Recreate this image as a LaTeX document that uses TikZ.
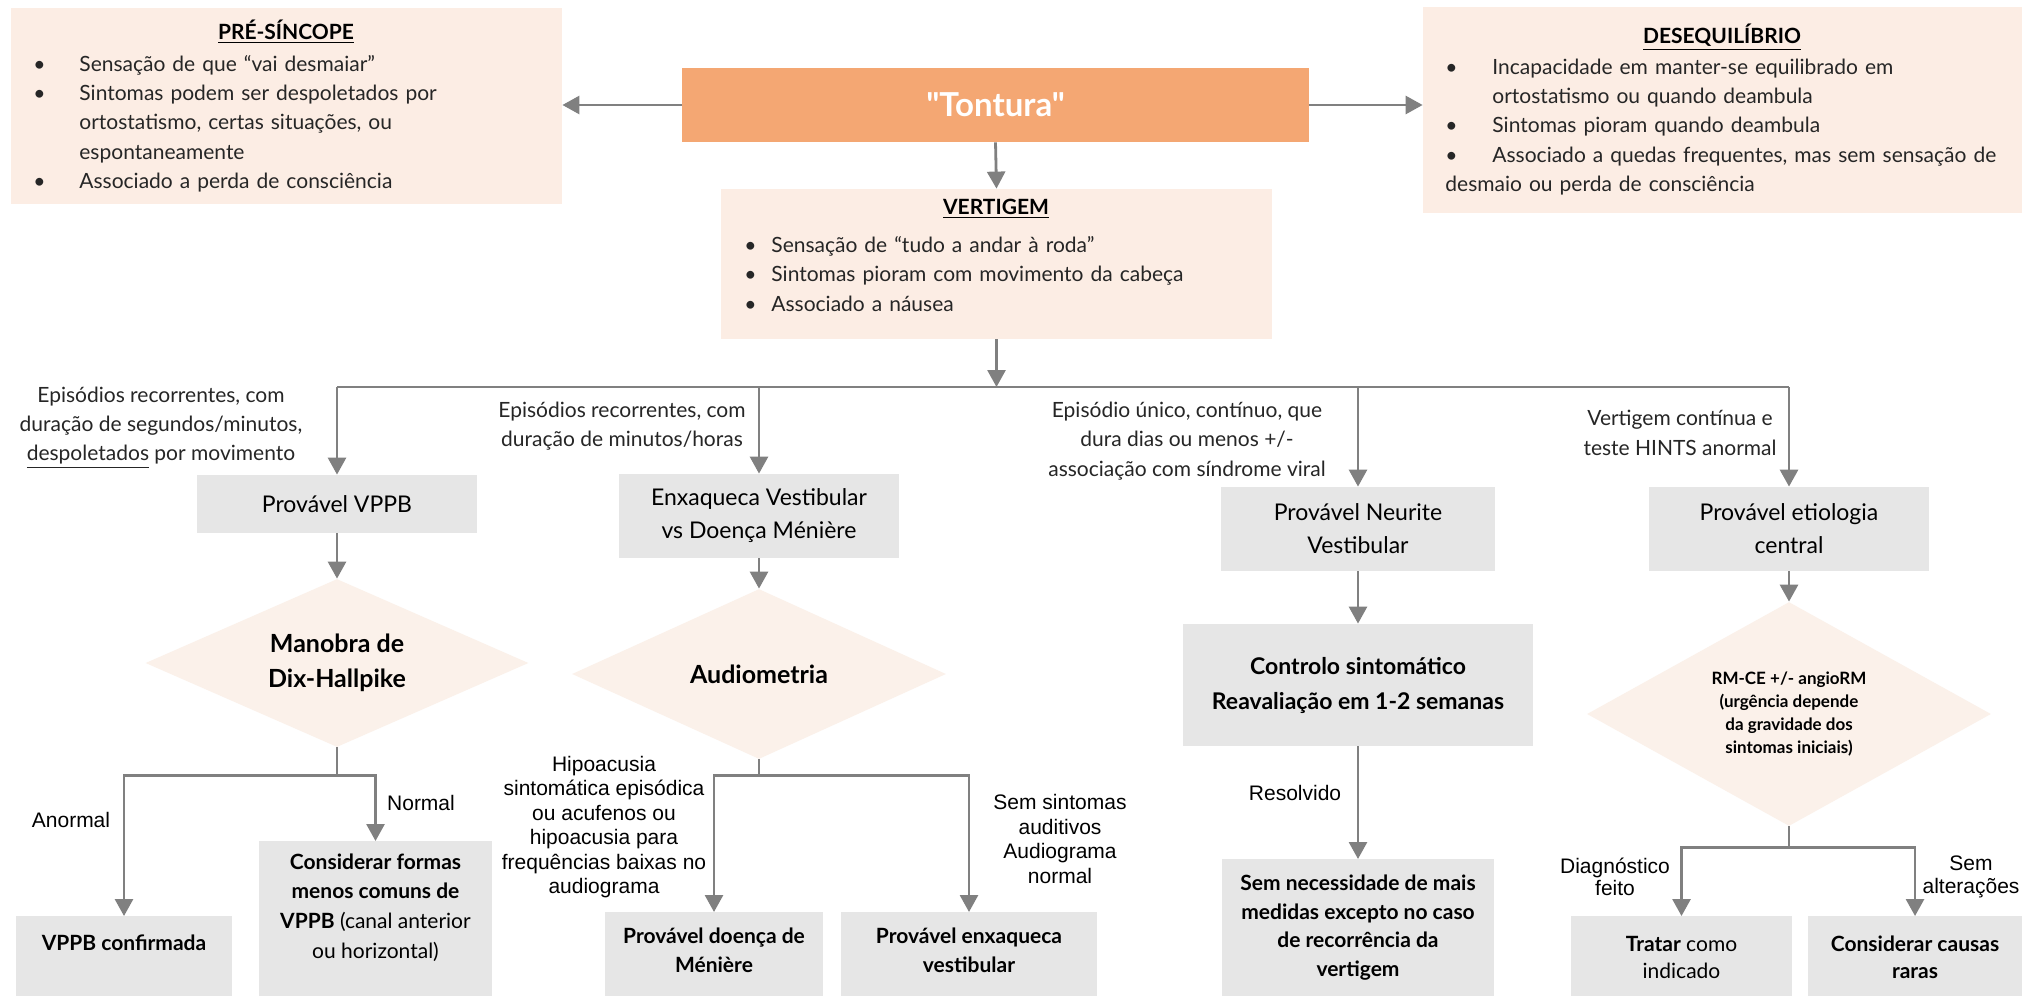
\documentclass[tikz,border=0pt]{standalone}
\usepackage{fontspec}
\setmainfont{Lato}
\newfontfamily\latoplain{Lato}[Ligatures=TeXOff]
\newfontfamily\helv{Liberation Sans}
\usetikzlibrary{arrows.meta,shapes.geometric}

\definecolor{peach}{RGB}{252,237,228}
\definecolor{peachdia}{RGB}{251,241,234}
\definecolor{tonturaor}{RGB}{244,167,115}
\definecolor{boxgray}{RGB}{230,230,230}
\definecolor{linegray}{RGB}{128,128,128}
\definecolor{txtdark}{RGB}{38,38,38}

\newcommand{\listfont}{\fontsize{10.5pt}{14.7pt}\selectfont}
\newcommand{\boxfont}{\fontsize{11.5pt}{16.5pt}\selectfont}
\newcommand{\decfont}{\fontsize{12.5pt}{17.5pt}\selectfont\bfseries}
\newcommand{\mrifont}{\fontsize{8.5pt}{11.5pt}\selectfont\bfseries}
\newcommand{\ctrlfont}{\fontsize{11.5pt}{17.5pt}\selectfont\bfseries}
\newcommand{\leaffont}{\fontsize{10.5pt}{14.5pt}\selectfont}
\newcommand{\helvfont}{\helv\fontsize{10.5pt}{12.2pt}\selectfont}
% bullet line with hanging indent
\newcommand{\bitem}[2]{\par\noindent\hangindent=#1\hangafter=1\makebox[#1][l]{\textbullet}#2}

\tikzset{>={Triangle[length=8.5pt,width=9pt]}}
\tikzset{
  edgeline/.style={draw=linegray, line width=1.4pt},
  conn/.style={edgeline, ->},
  peachbox/.style={fill=peach, inner sep=0pt},
  graybox/.style={fill=boxgray, inner sep=0pt, align=center, text=black, font=\boxfont},
  decision/.style={diamond, aspect=2.3, fill=peachdia, inner sep=0pt, align=center, text=black, font=\decfont},
  titletxt/.style={inner sep=0pt, text=black, font=\listfont\bfseries},
  listtxt/.style={inner sep=0pt, align=left, text=txtdark, font=\listfont},
  lbl/.style={inner sep=0pt, align=center, text=txtdark, font=\listfont},
  leaftxt/.style={inner sep=0pt, align=center, text=black, font=\leaffont},
  hlbl/.style={inner sep=0pt, align=center, text=black, font=\helvfont},
}

\begin{document}
\begin{tikzpicture}[x=0.5pt,y=-0.5pt]
\useasboundingbox (0,0) rectangle (2022,995);
\fill[white] (0,0) rectangle (2022,995);

% top row
\node[peachbox, minimum width=275.5pt, minimum height=98pt] (pre) at (286.5,106) {};
\node[titletxt] (pretitle) at (286,32) {\underline{PRÉ-SÍNCOPE}};
\node[listtxt, text width=270pt, anchor=west] (pretxt) at (33,117) {%
  \bitem{23pt}{Sensação de que “vai desmaiar”}
  \bitem{23pt}{Sintomas podem ser despoletados por\newline ortostatismo, certas situações, ou\newline espontaneamente}
  \bitem{23pt}{Associado a perda de consciência}};

\node[fill=tonturaor, minimum width=313.5pt, minimum height=37pt, inner sep=0pt,
      text=white, font=\latoplain\fontsize{16.5pt}{18pt}\selectfont\bfseries] (tont) at (995.5,105) {"Tontura"};

\node[peachbox, minimum width=303.5pt, minimum height=103pt] (deseq) at (1726.5,110) {};
\node[titletxt] (deseqtitle) at (1722,37) {\underline{DESEQUILÍBRIO}};
\node[listtxt, text width=300pt, anchor=west] (deseqtxt) at (1445,120) {%
  \bitem{23.5pt}{Incapacidade em manter-se equilibrado em\newline ortostatismo ou quando deambula}
  \bitem{23.5pt}{Sintomas pioram quando deambula}
  \bitem{23.5pt}{Associado a quedas frequentes, mas sem sensação de\newline desmaio ou perda de consciência}};

\node[peachbox, minimum width=275.5pt, minimum height=75pt] (vert) at (996.5,264) {};
\node[titletxt] (verttitle) at (996,209) {\underline{VERTIGEM}};
\node[listtxt, text width=260pt, anchor=west] (verttxt) at (744,267) {%
  \bitem{13.5pt}{Sensação de “tudo a andar à roda”}
  \bitem{13.5pt}{Sintomas pioram com movimento da cabeça}
  \bitem{13.5pt}{Associado a náusea}};

\draw[conn] (tont.west) -- (tont.west -| pre.east);
\draw[conn] (tont.east) -- (tont.east -| deseq.west);
\draw[conn] (tont.south) -- (vert.north);

% second level
\node[graybox, minimum width=140pt, minimum height=29pt] (vppb) at (337,504) {Provável VPPB};
\node[graybox, minimum width=140pt, minimum height=42pt] (enx) at (759,516) {Enxaqueca Vestibular\\vs Doença Ménière};
\node[graybox, minimum width=137pt, minimum height=42pt] (neur) at (1358,529) {Provável Neurite\\Vestibular};
\node[graybox, minimum width=140pt, minimum height=42pt] (etio) at (1789,529) {Provável etiologia\\central};

\coordinate (bus) at (996.5,387);
\draw[conn] (vert.south) -- (bus);
\draw[edgeline] (vppb |- bus) -- (etio |- bus);
\foreach \b in {vppb,enx,neur,etio}
  \draw[conn] (\b |- bus) -- (\b.north);

\node[lbl] (lvppb) at (161,427.5) {Episódios recorrentes, com\\duração de segundos/minutos,\\\underline{despoletados} por movimento};
\node[lbl] (lenx) at (622,426) {Episódios recorrentes, com\\duração de minutos/horas};
\node[lbl] (lneur) at (1187,441) {Episódio único, contínuo, que\\dura dias ou menos +/-\\associação com síndrome viral};
\node[lbl] (letio) at (1680,433) {Vertigem contínua e\\teste HINTS anormal};

% third level
\node[decision, minimum width=191.5pt, minimum height=84pt] (dix) at (337,663) {Manobra de\\Dix-Hallpike};
\node[decision, minimum width=187pt, minimum height=85pt] (audio) at (759,674) {Audiometria};
\node[graybox, minimum width=175pt, minimum height=61pt, font=\ctrlfont] (ctrl) at (1358,685) {Controlo sintomático\\Reavaliação em 1-2 semanas};
\node[decision, aspect=1.8, minimum width=202pt, minimum height=112pt, font=\mrifont] (rm) at (1789,714) {RM-CE +/- angioRM\\(urgência depende\\da gravidade dos\\sintomas iniciais)};

\draw[conn] (vppb.south) -- (dix.north);
\draw[conn] (enx.south) -- (audio.north);
\draw[conn] (neur.south) -- (ctrl.north);
\draw[conn] (etio.south) -- (rm.north);

% bottom level
\node[graybox, minimum width=108pt, minimum height=42pt, anchor=north] (conf) at (124,916) {};
\node[leaftxt] (conftxt) at (124,943) {\textbf{VPPB confirmada}};
\node[graybox, minimum width=116.5pt, minimum height=80pt, anchor=north] (formas) at (375.5,841) {};
\node[leaftxt, font=\fontsize{10.5pt}{14.8pt}\selectfont] (formastxt) at (375.5,907.5) {\textbf{Considerar formas}\\\textbf{menos comuns de}\\\textbf{VPPB} (canal anterior\\ou horizontal)};

\node[graybox, minimum width=109pt, minimum height=44pt, anchor=north] (men) at (714,912) {};
\node[leaftxt] (mentxt) at (714,950.5) {\textbf{Provável doença de}\\\textbf{Ménière}};
\node[graybox, minimum width=128pt, minimum height=44pt, anchor=north] (vest) at (969,912) {};
\node[leaftxt] (vesttxt) at (969,950.5) {\textbf{Provável enxaqueca}\\\textbf{vestibular}};

\node[graybox, minimum width=136pt, minimum height=71pt, anchor=north] (semnec) at (1358,859) {};
\node[leaftxt, font=\fontsize{10.5pt}{14.2pt}\selectfont\bfseries] (semnectxt) at (1358,927.5) {Sem necessidade de mais\\medidas excepto no caso\\de recorrência da\\vertigem};

\node[graybox, minimum width=110.5pt, minimum height=42pt, anchor=north] (trat) at (1681.5,916) {};
\node[leaftxt, font=\fontsize{10.5pt}{13.5pt}\selectfont] (trattxt) at (1681.5,957) {\textbf{Tratar} como\\indicado};
\node[graybox, minimum width=107pt, minimum height=42pt, anchor=north] (raras) at (1915,916) {};
\node[leaftxt, font=\fontsize{10.5pt}{13.5pt}\selectfont] (rarastxt) at (1915,957) {\textbf{Considerar causas}\\\textbf{raras}};

\coordinate (dixj) at ([yshift=-14pt]dix.south);
\coordinate (audj) at ([yshift=-8pt]audio.south);
\coordinate (rmj) at ([yshift=-10.5pt]rm.south);
\draw[edgeline] (dix.south) -- (dixj);
\draw[conn] (dixj) -| (conf.north);
\draw[conn] (dixj) -| (formas.north);
\draw[edgeline] (audio.south) -- (audj);
\draw[conn] (audj) -| (men.north);
\draw[conn] (audj) -| (vest.north);
\draw[conn] (ctrl.south) -- (semnec.north);
\draw[edgeline] (rm.south) -- (rmj);
\draw[conn] (rmj) -| (trat.north);
\draw[conn] (rmj) -| (raras.north);

\node[hlbl] (lanor) at (71,820) {Anormal};
\node[hlbl] (lnorm) at (421,803) {Normal};
\node[hlbl] (lhip) at (604,827) {Hipoacusia\\sintomática episódica\\ou acufenos ou\\hipoacusia para\\frequências baixas no\\audiograma};
\node[hlbl] (lsem) at (1060,839) {Sem sintomas\\auditivos\\Audiograma\\normal};
\node[hlbl] (lres) at (1295,793) {Resolvido};
\node[hlbl, font=\helv\fontsize{10.5pt}{11.2pt}\selectfont] (ldiag) at (1615,877) {Diagnóstico\\feito};
\node[hlbl, font=\helv\fontsize{10.5pt}{11.2pt}\selectfont] (lsemalt) at (1971,877) {Sem\\alterações};
\end{tikzpicture}
\end{document}
